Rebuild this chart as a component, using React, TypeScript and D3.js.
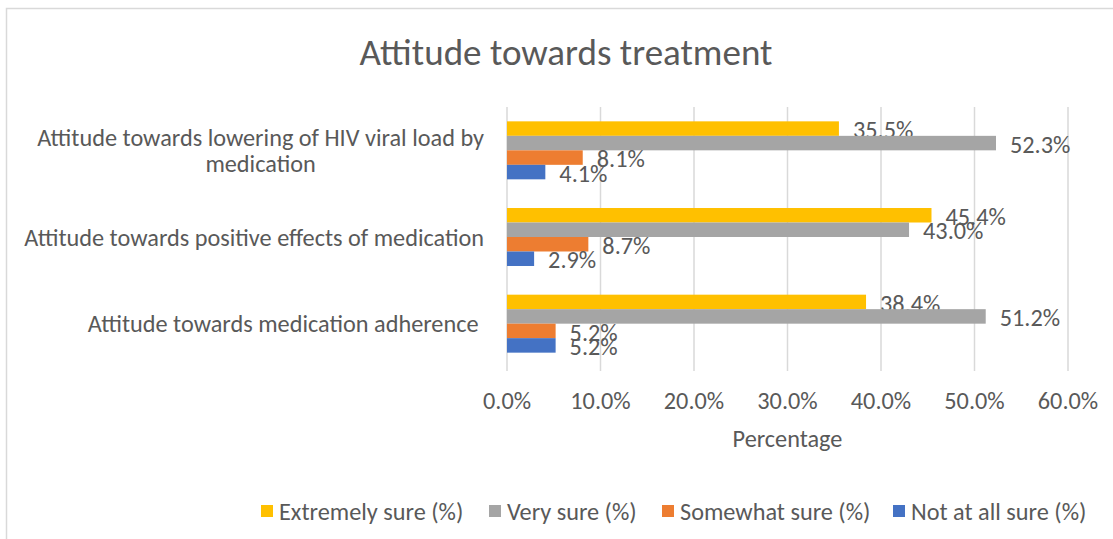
import React, { useEffect, useRef } from "react";
import * as d3 from "d3";

const categories = [
  "Attitude towards lowering of HIV viral load by medication",
  "Attitude towards positive effects of medication",
  "Attitude towards medication adherence ",
];
const categoryLines = [
  ["Attitude towards lowering of HIV viral load by", "medication"],
  ["Attitude towards positive effects of medication"],
  ["Attitude towards medication adherence "],
];
const seriesNames = ["Extremely sure (%)", "Very sure (%)", "Somewhat sure (%)", "Not at all sure (%)"];
const extremelySure = [35.5, 45.4, 38.4];
const verySure = [52.3, 43.0, 51.2];
const somewhatSure = [8.1, 8.7, 5.2];
const notAtAllSure = [4.1, 2.9, 5.2];
const xTicks = [0, 10, 20, 30, 40, 50, 60];
const colors = ["#FFC000", "#A5A5A5", "#ED7D31", "#4472C4"];

const FONT = "Carlito, Calibri, 'Open Sans', sans-serif";
const TEXT = "#595959";

export default function App() {
  const ref = useRef<SVGSVGElement>(null);
  useEffect(() => {
    const svg = d3.select(ref.current);
    svg.selectAll("*").remove();
    const W = 1113, H = 539;

    const fit = (s: string, target: number) => {
      const t = svg.append("text").attr("font-family", FONT).attr("font-size", 20)
        .attr("xml:space", "preserve").text(s);
      const w = (t.node() as SVGTextElement).getComputedTextLength();
      t.remove();
      return 20 * target / w;
    };
    const fs = fit("Attitude towards positive effects of medication", 460);
    const titleFs = fit("Attitude towards treatment", 413);

    svg.append("rect").attr("width", W).attr("height", H).attr("fill", "#fff");
    svg.append("rect").attr("x", 6.5).attr("y", 8.5).attr("width", 1300).attr("height", 700)
      .attr("fill", "none").attr("stroke", "#D9D9D9").attr("stroke-width", 1.5);

    const x = d3.scaleLinear().domain([0, 60]).range([507, 1068]);
    const y = d3.scaleBand<string>().domain(categories).range([107, 367]).paddingInner(0.331).paddingOuter(0.1655);
    const sub = d3.scaleBand<number>().domain([0, 1, 2, 3]).range([0, y.bandwidth()]);
    const series = [extremelySure, verySure, somewhatSure, notAtAllSure];
    const mid = fs * 0.36;

    // title
    svg.append("text").attr("x", 566).attr("y", 52 + titleFs * 0.36).attr("text-anchor", "middle")
      .attr("font-family", FONT).attr("font-size", titleFs).attr("fill", TEXT).text("Attitude towards treatment");

    // gridlines
    svg.append("g").selectAll("line").data(xTicks).join("line")
      .attr("x1", d => x(d)).attr("x2", d => x(d)).attr("y1", 107).attr("y2", 371)
      .attr("stroke", "#D9D9D9").attr("stroke-width", 1.5);

    // tick labels
    svg.append("g").selectAll("text").data(xTicks).join("text")
      .attr("x", d => x(d)).attr("y", 400 + mid).attr("text-anchor", "middle")
      .attr("font-family", FONT).attr("font-size", fs).attr("fill", TEXT)
      .text(d => d.toFixed(1) + "%");

    svg.append("text").attr("x", x(30)).attr("y", 438 + mid).attr("text-anchor", "middle")
      .attr("font-family", FONT).attr("font-size", fs).attr("fill", TEXT).text("Percentage");

    // bars
    series.forEach((vals, si) => {
      const g = svg.append("g");
      g.selectAll("rect").data(vals).join("rect")
        .attr("x", x(0)).attr("y", (_, i) => (y(categories[i]) as number) + (sub(si) as number))
        .attr("width", d => x(d) - x(0)).attr("height", sub.bandwidth())
        .attr("fill", colors[si]);
      g.selectAll("text").data(vals).join("text")
        .attr("x", d => x(d) + 14)
        .attr("y", (_, i) => (y(categories[i]) as number) + (sub(si) as number) + sub.bandwidth() / 2 + mid + 1)
        .attr("font-family", FONT).attr("font-size", fs).attr("fill", TEXT)
        .text(d => d.toFixed(1) + "%");
    });

    // category labels
    categories.forEach((c, i) => {
      const lines = categoryLines[i];
      const cy = (y(c) as number) + y.bandwidth() / 2;
      const lh = 26;
      const t0 = svg.append("text").attr("x", 484).attr("text-anchor", "end")
        .attr("y", cy - (lines.length - 1) * lh / 2 + mid)
        .attr("font-family", FONT).attr("font-size", fs).attr("fill", TEXT)
        .attr("xml:space", "preserve").style("white-space", "pre").text(lines[0]);
      const w0 = (t0.node() as SVGTextElement).getComputedTextLength();
      for (let k = 1; k < lines.length; k++) {
        svg.append("text").attr("x", 484 - w0 / 2).attr("text-anchor", "middle")
          .attr("y", cy - (lines.length - 1) * lh / 2 + k * lh + mid)
          .attr("font-family", FONT).attr("font-size", fs).attr("fill", TEXT).text(lines[k]);
      }
    });

    // legend
    const legX = [261, 489, 662, 893];
    seriesNames.forEach((n, i) => {
      svg.append("rect").attr("x", legX[i]).attr("y", 505).attr("width", 12).attr("height", 12).attr("fill", colors[i]);
      svg.append("text").attr("x", legX[i] + 18).attr("y", 511 + mid)
        .attr("font-family", FONT).attr("font-size", fs).attr("fill", TEXT).text(n);
    });
  }, []);
  return (
    <svg ref={ref} width={1113} height={539} style={{ position: "absolute", left: 0, top: 0 }} />
  );
}
